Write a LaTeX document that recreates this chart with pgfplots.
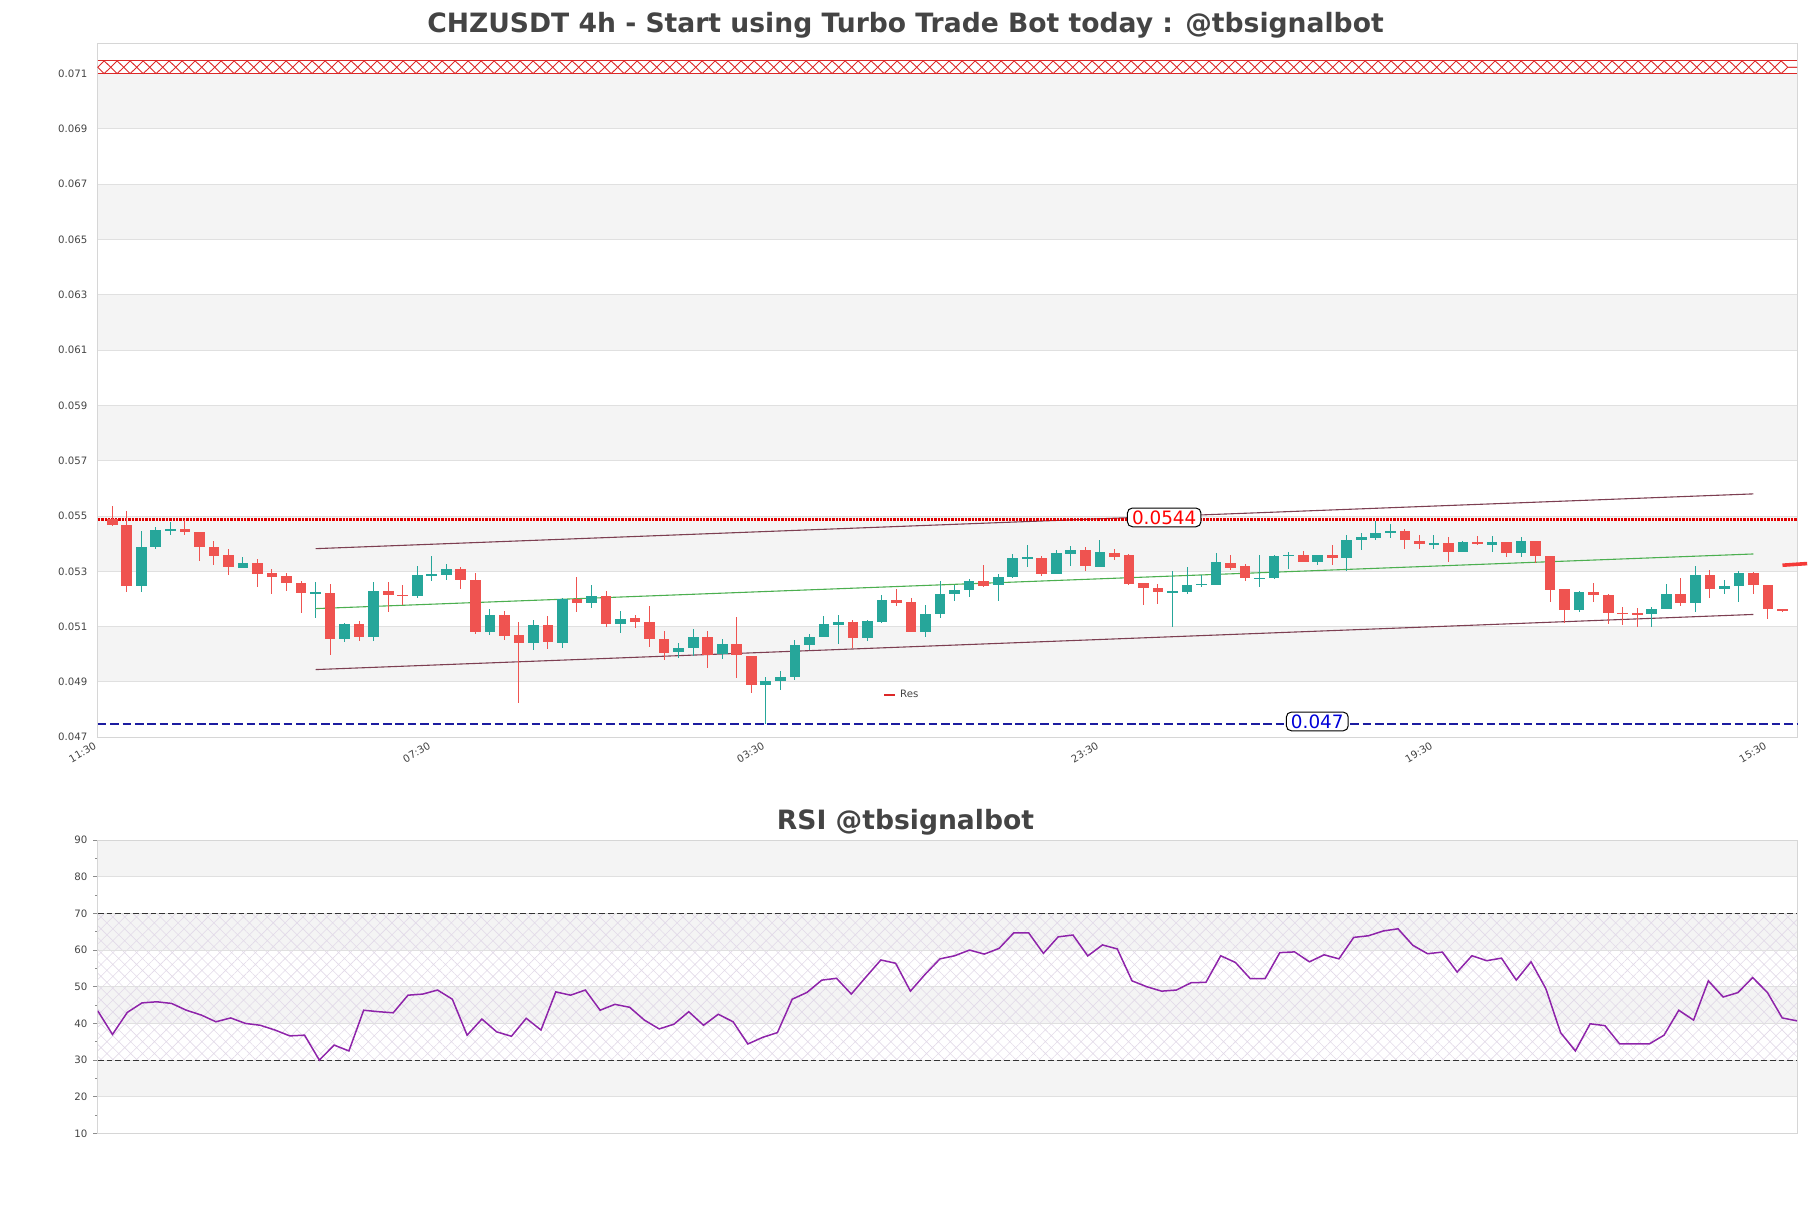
\documentclass[border=0pt]{standalone}
\usepackage{fontspec}
\setmainfont{DejaVu Sans}
\usepackage{pgfplots}
\usepackage{pgfplotstable}
\pgfplotsset{compat=1.18}
\usetikzlibrary{patterns.meta,decorations.pathmorphing}

\definecolor{upc}{HTML}{26A69A}
\definecolor{downc}{HTML}{EF5350}
\definecolor{band}{HTML}{F4F4F4}
\definecolor{gridc}{HTML}{E0E0E0}
\definecolor{framec}{HTML}{D6D6D6}
\definecolor{txt}{HTML}{444444}
\definecolor{chan}{HTML}{7D3F52}
\definecolor{midc}{HTML}{4CAF50}
\definecolor{resred}{HTML}{E00000}
\definecolor{hatchred}{HTML}{DC2828}
\definecolor{supblue}{HTML}{1C1CA0}
\definecolor{rsic}{HTML}{8E24AA}
\definecolor{hatchc}{HTML}{E2DAE8}

\newcommand\tk{\fontsize{5.1}{6}\selectfont}

% green candles: index, open, high, low, close
\pgfplotstableread{
k O H L C
3 0.05246 0.05447 0.05224 0.05389
4 0.05387 0.05460 0.05381 0.05451
5 0.05449 0.05478 0.05430 0.05451
10 0.05313 0.05353 0.05312 0.05331
15 0.05221 0.05261 0.05131 0.05223
17 0.05054 0.05113 0.05043 0.05111
19 0.05061 0.05261 0.05047 0.05230
22 0.05210 0.05318 0.05204 0.05288
23 0.05287 0.05357 0.05264 0.05289
24 0.05288 0.05328 0.05270 0.05310
27 0.05080 0.05162 0.05069 0.05143
30 0.05040 0.05125 0.05015 0.05107
32 0.05040 0.05204 0.05021 0.05200
34 0.05184 0.05249 0.05168 0.05212
36 0.05108 0.05155 0.05076 0.05129
40 0.05007 0.05042 0.04987 0.05024
41 0.05022 0.05092 0.04994 0.05064
43 0.05000 0.05057 0.04982 0.05039
46 0.04888 0.04916 0.04748 0.04905
47 0.04902 0.04941 0.04870 0.04919
48 0.04916 0.05053 0.04906 0.05035
49 0.05033 0.05074 0.05015 0.05064
50 0.05061 0.05140 0.05061 0.05111
51 0.05106 0.05143 0.05036 0.05118
53 0.05058 0.05125 0.05047 0.05122
54 0.05118 0.05213 0.05113 0.05198
57 0.05080 0.05180 0.05061 0.05147
58 0.05146 0.05266 0.05130 0.05219
59 0.05217 0.05252 0.05194 0.05234
60 0.05231 0.05274 0.05206 0.05266
62 0.05249 0.05290 0.05192 0.05281
63 0.05281 0.05363 0.05277 0.05349
64 0.05348 0.05396 0.05315 0.05350
66 0.05292 0.05377 0.05292 0.05368
67 0.05364 0.05390 0.05321 0.05378
69 0.05315 0.05415 0.05315 0.05371
74 0.05225 0.05300 0.05100 0.05229
75 0.05227 0.05315 0.05219 0.05252
76 0.05252 0.05288 0.05242 0.05253
77 0.05249 0.05368 0.05249 0.05335
80 0.05274 0.05360 0.05242 0.05276
81 0.05275 0.05359 0.05271 0.05357
82 0.05355 0.05370 0.05310 0.05360
84 0.05333 0.05360 0.05322 0.05360
86 0.05348 0.05433 0.05300 0.05415
87 0.05415 0.05439 0.05378 0.05423
88 0.05421 0.05481 0.05415 0.05439
89 0.05437 0.05471 0.05421 0.05447
92 0.05400 0.05433 0.05382 0.05401
94 0.05369 0.05408 0.05369 0.05407
96 0.05394 0.05429 0.05369 0.05407
98 0.05365 0.05425 0.05351 0.05411
102 0.05159 0.05228 0.05153 0.05224
107 0.05145 0.05172 0.05098 0.05165
108 0.05164 0.05253 0.05164 0.05219
110 0.05184 0.05321 0.05153 0.05288
112 0.05235 0.05270 0.05217 0.05248
113 0.05247 0.05301 0.05188 0.05294
}\upcandles

% red candles
\pgfplotstableread{
k O H L C
1 0.05490 0.05537 0.05465 0.05466
2 0.05469 0.05519 0.05224 0.05246
6 0.05452 0.05487 0.05430 0.05442
7 0.05443 0.05444 0.05336 0.05387
8 0.05387 0.05411 0.05322 0.05357
9 0.05360 0.05382 0.05286 0.05315
11 0.05331 0.05346 0.05242 0.05292
12 0.05295 0.05310 0.05219 0.05278
13 0.05282 0.05294 0.05228 0.05257
14 0.05258 0.05266 0.05148 0.05221
16 0.05222 0.05254 0.04999 0.05054
18 0.05111 0.05122 0.05049 0.05061
20 0.05230 0.05261 0.05153 0.05213
21 0.05216 0.05249 0.05180 0.05210
25 0.05310 0.05315 0.05237 0.05268
26 0.05270 0.05294 0.05074 0.05080
28 0.05143 0.05155 0.05053 0.05065
29 0.05068 0.05116 0.04824 0.05040
31 0.05107 0.05140 0.05018 0.05043
33 0.05200 0.05278 0.05152 0.05184
35 0.05212 0.05230 0.05098 0.05108
37 0.05133 0.05143 0.05094 0.05116
38 0.05118 0.05176 0.05025 0.05054
39 0.05057 0.05083 0.04978 0.05004
42 0.05064 0.05083 0.04949 0.04998
44 0.05039 0.05136 0.04913 0.04996
45 0.04995 0.04995 0.04859 0.04888
52 0.05118 0.05124 0.05024 0.05058
55 0.05198 0.05237 0.05174 0.05184
56 0.05188 0.05204 0.05080 0.05082
61 0.05266 0.05324 0.05242 0.05248
65 0.05349 0.05354 0.05282 0.05292
68 0.05378 0.05388 0.05301 0.05318
70 0.05368 0.05382 0.05340 0.05353
71 0.05358 0.05363 0.05249 0.05255
72 0.05259 0.05259 0.05180 0.05239
73 0.05241 0.05254 0.05180 0.05224
78 0.05331 0.05360 0.05304 0.05313
79 0.05318 0.05327 0.05264 0.05275
83 0.05360 0.05375 0.05333 0.05333
85 0.05360 0.05396 0.05324 0.05348
90 0.05445 0.05454 0.05382 0.05412
91 0.05410 0.05433 0.05382 0.05398
93 0.05402 0.05423 0.05333 0.05369
95 0.05407 0.05429 0.05394 0.05398
97 0.05407 0.05407 0.05351 0.05365
99 0.05411 0.05411 0.05330 0.05354
100 0.05357 0.05357 0.05188 0.05234
101 0.05236 0.05236 0.05113 0.05159
103 0.05227 0.05259 0.05188 0.05213
104 0.05216 0.05219 0.05110 0.05148
105 0.05151 0.05172 0.05105 0.05145
106 0.05148 0.05166 0.05100 0.05145
109 0.05219 0.05274 0.05174 0.05184
111 0.05288 0.05305 0.05202 0.05235
114 0.05294 0.05296 0.05217 0.05249
115 0.05252 0.05252 0.05127 0.05163
116 0.05164 0.05164 0.05153 0.05155
}\downcandles

% RSI, one value per candle
\pgfplotstableread{
j r
0 43.45
1 37.0
2 43.0
3 45.6
4 45.9
5 45.45
6 43.6
7 42.3
8 40.45
9 41.5
10 40.0
11 39.5
12 38.2
13 36.6
14 36.8
15 30.0
16 34.1
17 32.5
18 43.6
19 43.2
20 42.9
21 47.7
22 48.0
23 49.1
24 46.6
25 36.8
26 41.2
27 37.7
28 36.5
29 41.4
30 38.2
31 48.6
32 47.7
33 49.1
34 43.6
35 45.2
36 44.4
37 40.9
38 38.5
39 39.8
40 43.2
41 39.5
42 42.5
43 40.45
44 34.4
45 36.2
46 37.5
47 46.6
48 48.45
49 51.8
50 52.3
51 48.0
52 52.7
53 57.3
54 56.4
55 48.8
56 53.4
57 57.6
58 58.45
59 60.0
60 58.9
61 60.45
62 64.7
63 64.7
64 59.1
65 63.6
66 64.1
67 58.4
68 61.4
69 60.3
70 51.6
71 50.0
72 48.8
73 49.1
74 51.1
75 51.2
76 58.45
77 56.6
78 52.2
79 52.2
80 59.3
81 59.5
82 56.8
83 58.7
84 57.6
85 63.45
86 63.9
87 65.2
88 65.8
89 61.3
90 59.0
91 59.45
92 54.0
93 58.45
94 57.1
95 57.8
96 51.8
97 56.8
98 49.5
99 37.5
100 32.5
101 39.9
102 39.4
103 34.4
104 34.4
105 34.4
106 36.8
107 43.6
108 40.9
109 51.6
110 47.2
111 48.4
112 52.5
113 48.4
114 41.5
115 40.7
}\rsidata

\begin{document}
\begin{tikzpicture}

% ---------------- price panel ----------------
\begin{axis}[
  at={(48.85pt,235.25pt)}, anchor=south west,
  scale only axis, width=849.65pt, height=347pt,
  set layers, clip=false,
  xmin=0, xmax=117, ymin=0.04699, ymax=0.07209,
  axis line style={framec},
  ymajorgrids, grid style={gridc, line width=0.5pt},
  ytick={0.047,0.049,0.051,0.053,0.055,0.057,0.059,0.061,0.063,0.065,0.067,0.069,0.071},
  scaled y ticks=false,
  yticklabel style={/pgf/number format/fixed, /pgf/number format/fixed zerofill,
    /pgf/number format/precision=3, inner sep=0pt, xshift=-5pt},
  /pgf/number format/assume math mode=true,
  xtick={0,23,46,69,92,115},
  xticklabels={11:30,07:30,03:30,23:30,19:30,15:30},
  xticklabel style={rotate=30, anchor=north east, inner sep=0.6pt, xshift=-2.2pt},
  ticklabel style={font=\tk, text=txt},
  major tick length=0pt, tick style={draw=none},
  legend style={at={(0.462,0.061)}, anchor=west, draw=none, fill=none,
    font=\tk, text=txt, inner sep=0pt},
  legend image code/.code={\draw[#1] (0pt,0pt) -- (5.5pt,0pt);},
]
% alternating background bands
\addplot[on layer=axis background, fill=band, draw=none, forget plot] coordinates {(0,0.049) (117,0.049) (117,0.051) (0,0.051)} -- cycle;
\addplot[on layer=axis background, fill=band, draw=none, forget plot] coordinates {(0,0.053) (117,0.053) (117,0.055) (0,0.055)} -- cycle;
\addplot[on layer=axis background, fill=band, draw=none, forget plot] coordinates {(0,0.057) (117,0.057) (117,0.059) (0,0.059)} -- cycle;
\addplot[on layer=axis background, fill=band, draw=none, forget plot] coordinates {(0,0.061) (117,0.061) (117,0.063) (0,0.063)} -- cycle;
\addplot[on layer=axis background, fill=band, draw=none, forget plot] coordinates {(0,0.065) (117,0.065) (117,0.067) (0,0.067)} -- cycle;
\addplot[on layer=axis background, fill=band, draw=none, forget plot] coordinates {(0,0.069) (117,0.069) (117,0.071) (0,0.071)} -- cycle;

% hatched zone at the top
\draw[hatchred, line width=0.45pt, decorate, decoration={zigzag, amplitude=3.18pt, segment length=13pt}]
  (axis cs:0,0.07123) -- (axis cs:117,0.07123);
\draw[hatchred, line width=0.45pt, decorate, decoration={zigzag, mirror, amplitude=3.18pt, segment length=13pt}]
  (axis cs:0,0.07123) -- (axis cs:117,0.07123);
\addplot[hatchred, line width=0.4pt, forget plot] coordinates {(0,0.07146) (117,0.07146)};
\addplot[hatchred, line width=0.4pt, forget plot] coordinates {(0,0.07100) (117,0.07100)};

% channel
\addplot[chan, line width=0.55pt, forget plot] coordinates {(15,0.053819) (114,0.055800)};
\addplot[midc, line width=0.55pt, forget plot] coordinates {(15,0.051651) (114,0.053627)};
\addplot[chan, line width=0.55pt, forget plot] coordinates {(15,0.049446) (114,0.051440)};

% levels
\addplot[resred, line width=1.3pt, dash pattern=on 1.2pt off 0.5pt, forget plot] coordinates {(0,0.05487) (117,0.05487)};
\addplot[supblue, line width=0.65pt, dash pattern=on 4.3pt off 1.9pt, forget plot] coordinates {(0,0.04748) (117,0.04748)};

% wicks
\addplot[draw=none, mark=none, forget plot, error bars/.cd, y dir=both, y explicit, error mark=none,
  error bar style={draw=upc, line width=0.5pt}]
  table[x=k, y expr={(\thisrow{H}+\thisrow{L})/2}, y error expr={(\thisrow{H}-\thisrow{L})/2}] {\upcandles};
\addplot[draw=none, mark=none, forget plot, error bars/.cd, y dir=both, y explicit, error mark=none,
  error bar style={draw=downc, line width=0.5pt}]
  table[x=k, y expr={(\thisrow{H}+\thisrow{L})/2}, y error expr={(\thisrow{H}-\thisrow{L})/2}] {\downcandles};
% bodies
\addplot[draw=none, mark=none, forget plot, error bars/.cd, y dir=both, y explicit, error mark=none,
  error bar style={draw=upc, line width=5.34pt}]
  table[x=k, y expr={(\thisrow{O}+\thisrow{C})/2}, y error expr={max(abs(\thisrow{C}-\thisrow{O})/2,0.000018)}] {\upcandles};
\addplot[draw=none, mark=none, forget plot, error bars/.cd, y dir=both, y explicit, error mark=none,
  error bar style={draw=downc, line width=5.34pt}]
  table[x=k, y expr={(\thisrow{O}+\thisrow{C})/2}, y error expr={max(abs(\thisrow{C}-\thisrow{O})/2,0.000018)}] {\downcandles};

% last price tick outside the frame
\addplot[downc!70!red, line width=1.8pt, forget plot] coordinates {(116.0,0.05322) (117.7,0.05328)};

\addlegendimage{hatchred, line width=1pt}
\addlegendentry{Res}

\node[draw=black, line width=0.5pt, rounded corners=2.5pt, fill=white, text=red,
  font=\fontsize{9.2}{11}\selectfont, inner xsep=2.3pt, inner ysep=1.2pt]
  at (axis cs:73.43,0.05495) {0.0544};
\node[draw=black, line width=0.5pt, rounded corners=2.5pt, fill=white, text=blue!85!black,
  font=\fontsize{9.2}{11}\selectfont, inner xsep=2.3pt, inner ysep=1.2pt]
  at (axis cs:83.97,0.04757) {0.047};
\end{axis}

% ---------------- RSI panel ----------------
\begin{axis}[
  at={(48.85pt,37.25pt)}, anchor=south west,
  scale only axis, width=849.65pt, height=146.75pt,
  set layers,
  xmin=0, xmax=115, ymin=10, ymax=90,
  axis line style={framec},
  xtick=\empty,
  ytick={10,20,30,40,50,60,70,80,90},
  minor ytick={15,25,35,45,55,65,75,85},
  ytick pos=left, tick align=outside,
  major tick length=2.3pt, minor tick length=1.2pt,
  tick style={black!45, line width=0.4pt},
  ymajorgrids, grid style={gridc, line width=0.5pt},
  ticklabel style={font=\tk, text=txt},
  yticklabel style={inner sep=0pt, xshift=-2.7pt},
  /pgf/number format/assume math mode=true,
]
\addplot[on layer=axis background, fill=band, draw=none] coordinates {(0,20) (115,20) (115,30) (0,30)} -- cycle;
\addplot[on layer=axis background, fill=band, draw=none] coordinates {(0,40) (115,40) (115,50) (0,50)} -- cycle;
\addplot[on layer=axis background, fill=band, draw=none] coordinates {(0,60) (115,60) (115,70) (0,70)} -- cycle;
\addplot[on layer=axis background, fill=band, draw=none] coordinates {(0,80) (115,80) (115,90) (0,90)} -- cycle;
\addplot[on layer=axis background, draw=none, pattern={Hatch[angle=45,distance=4.2pt,line width=0.3pt]},
  pattern color=hatchc] coordinates {(0,30) (115,30) (115,70) (0,70)} -- cycle;

\addplot[black!80, line width=0.5pt, dash pattern=on 2.9pt off 1.5pt] coordinates {(0,30) (115,30)};
\addplot[black!80, line width=0.5pt, dash pattern=on 2.9pt off 1.5pt] coordinates {(0,70) (115,70)};

\addplot[rsic, line width=0.75pt] table[x=j, y=r] {\rsidata};
\end{axis}

% titles
\node[anchor=base, text=txt, font=\fontsize{13.3}{16}\selectfont\bfseries]
  at (452.75pt,587.8pt) {CHZUSDT 4h - Start using Turbo Trade Bot today : @tbsignalbot};
\node[anchor=base, text=txt, font=\fontsize{13.3}{16}\selectfont\bfseries]
  at (452.75pt,189.35pt) {RSI @tbsignalbot};

\pgfresetboundingbox
\path[use as bounding box] (0,0) rectangle (905.5pt,604pt);
\end{tikzpicture}
\end{document}
